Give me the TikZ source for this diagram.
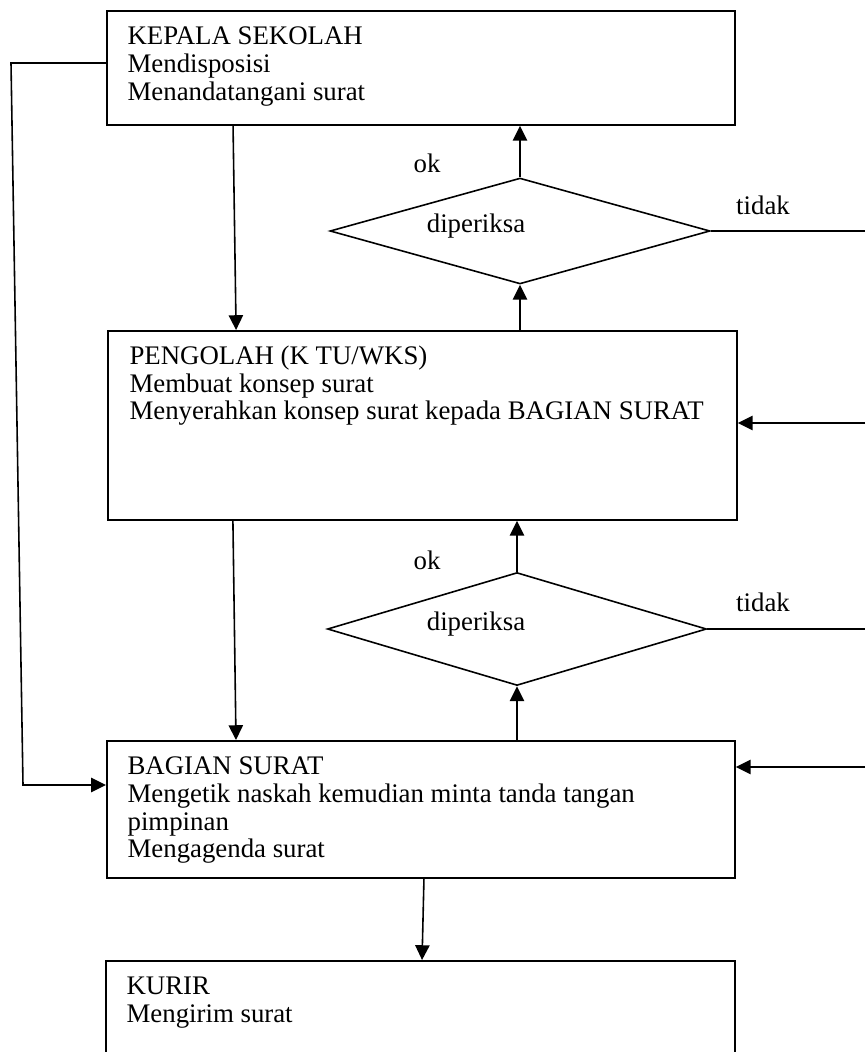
\documentclass[tikz,border=0pt]{standalone}
\usepackage{fontspec}
\setmainfont{Liberation Serif}
\usepackage{tikz}
\usetikzlibrary{positioning,shapes.geometric,arrows.meta}

\begin{document}
\begin{tikzpicture}[
    x=0.44pt, y=-0.44pt,
    kotak/.style={rectangle, draw=black, line width=0.8pt, anchor=north west, inner sep=0pt},
    belah/.style={diamond, draw=black, line width=0.7pt, inner sep=0pt, aspect=3.5},
    isi/.style={align=left, inner sep=0pt, text=black, font=\fontsize{11.8}{12.2}\selectfont},
    ket/.style={inner sep=0pt, text=black, font=\fontsize{11.8}{12.2}\selectfont},
    panah/.style={line width=0.7pt, -{Triangle[length=6.5pt,width=6.3pt]}},
    garis/.style={line width=0.7pt}
]
\useasboundingbox (0,0) rectangle (865,1052);
\clip (0,0) rectangle (865,1052);

\node (kepala) [kotak, minimum width=276.3pt, minimum height=50.2pt] at (106,10) {};
\node (pengolah) [kotak, minimum width=276.8pt, minimum height=83.2pt] at (107,330) {};
\node (bagian) [kotak, minimum width=276.3pt, minimum height=60.3pt] at (106,740) {};
\node (kurir) [kotak, minimum width=276.8pt, minimum height=60pt] at (105,960) {};

\node (belah1) [belah, minimum width=167.2pt, minimum height=46.6pt] at (520,231) {};
\node (belah2) [belah, minimum width=166.8pt, minimum height=49.7pt] at (517,629) {};

\node (tkepala) [isi, below right=7.3pt and 9.3pt of kepala.north west]
    {KEPALA SEKOLAH\\Mendisposisi\\Menandatangani surat};
\node (tpengolah) [isi, below right=6.8pt and 9.7pt of pengolah.north west]
    {PENGOLAH (K TU/WKS)\\Membuat konsep surat\\Menyerahkan konsep surat kepada BAGIAN SURAT};
\node (tbagian) [isi, below right=7.3pt and 9.3pt of bagian.north west]
    {BAGIAN SURAT\\Mengetik naskah kemudian minta tanda tangan\\pimpinan\\Mengagenda surat};
\node (tkurir) [isi, below right=7.3pt and 9.3pt of kurir.north west]
    {KURIR\\Mengirim surat};

\node (ok1) [ket] at (427,163) {ok};
\node (cek1) [ket] at (476,226) {diperiksa};
\node (tidak1) [ket] at (763,205) {tidak};
\node (ok2) [ket] at (427,560) {ok};
\node (cek2) [ket] at (476,624) {diperiksa};
\node (tidak2) [ket] at (763,602) {tidak};

\coordinate (ujung1) at (865,231);
\coordinate (masuk1) at (865,423);
\coordinate (ujung2) at (865,629);
\coordinate (masuk2) at (865,767);
\coordinate (kiri1) at (11,63);
\coordinate (kiri2) at (23,785);

\draw[panah] ([xshift=55.9pt]kepala.south west) -- ([xshift=56.8pt]pengolah.north west);
\draw[panah] (belah1.north) -- (belah1.north |- kepala.south);
\draw[panah] (belah1.south |- pengolah.north) -- (belah1.south);
\draw[garis] (belah1.east) -- (ujung1);
\draw[panah] (masuk1) -- (masuk1 -| pengolah.east);
\draw[panah] ([xshift=55.4pt]pengolah.south west) -- ([xshift=57.2pt]bagian.north west);
\draw[panah] (belah2.north) -- (belah2.north |- pengolah.south);
\draw[panah] (belah2.south |- bagian.north) -- (belah2.south);
\draw[garis] (belah2.east) -- (ujung2);
\draw[panah] (masuk2) -- (masuk2 -| bagian.east);
\draw[panah] (kiri1 -| kepala.west) -- (kiri1) -- (kiri2) -- (kiri2 -| bagian.west);
\draw[panah] ([xshift=139.9pt]bagian.south west) -- ([xshift=139.5pt]kurir.north west);

\end{tikzpicture}
\end{document}
